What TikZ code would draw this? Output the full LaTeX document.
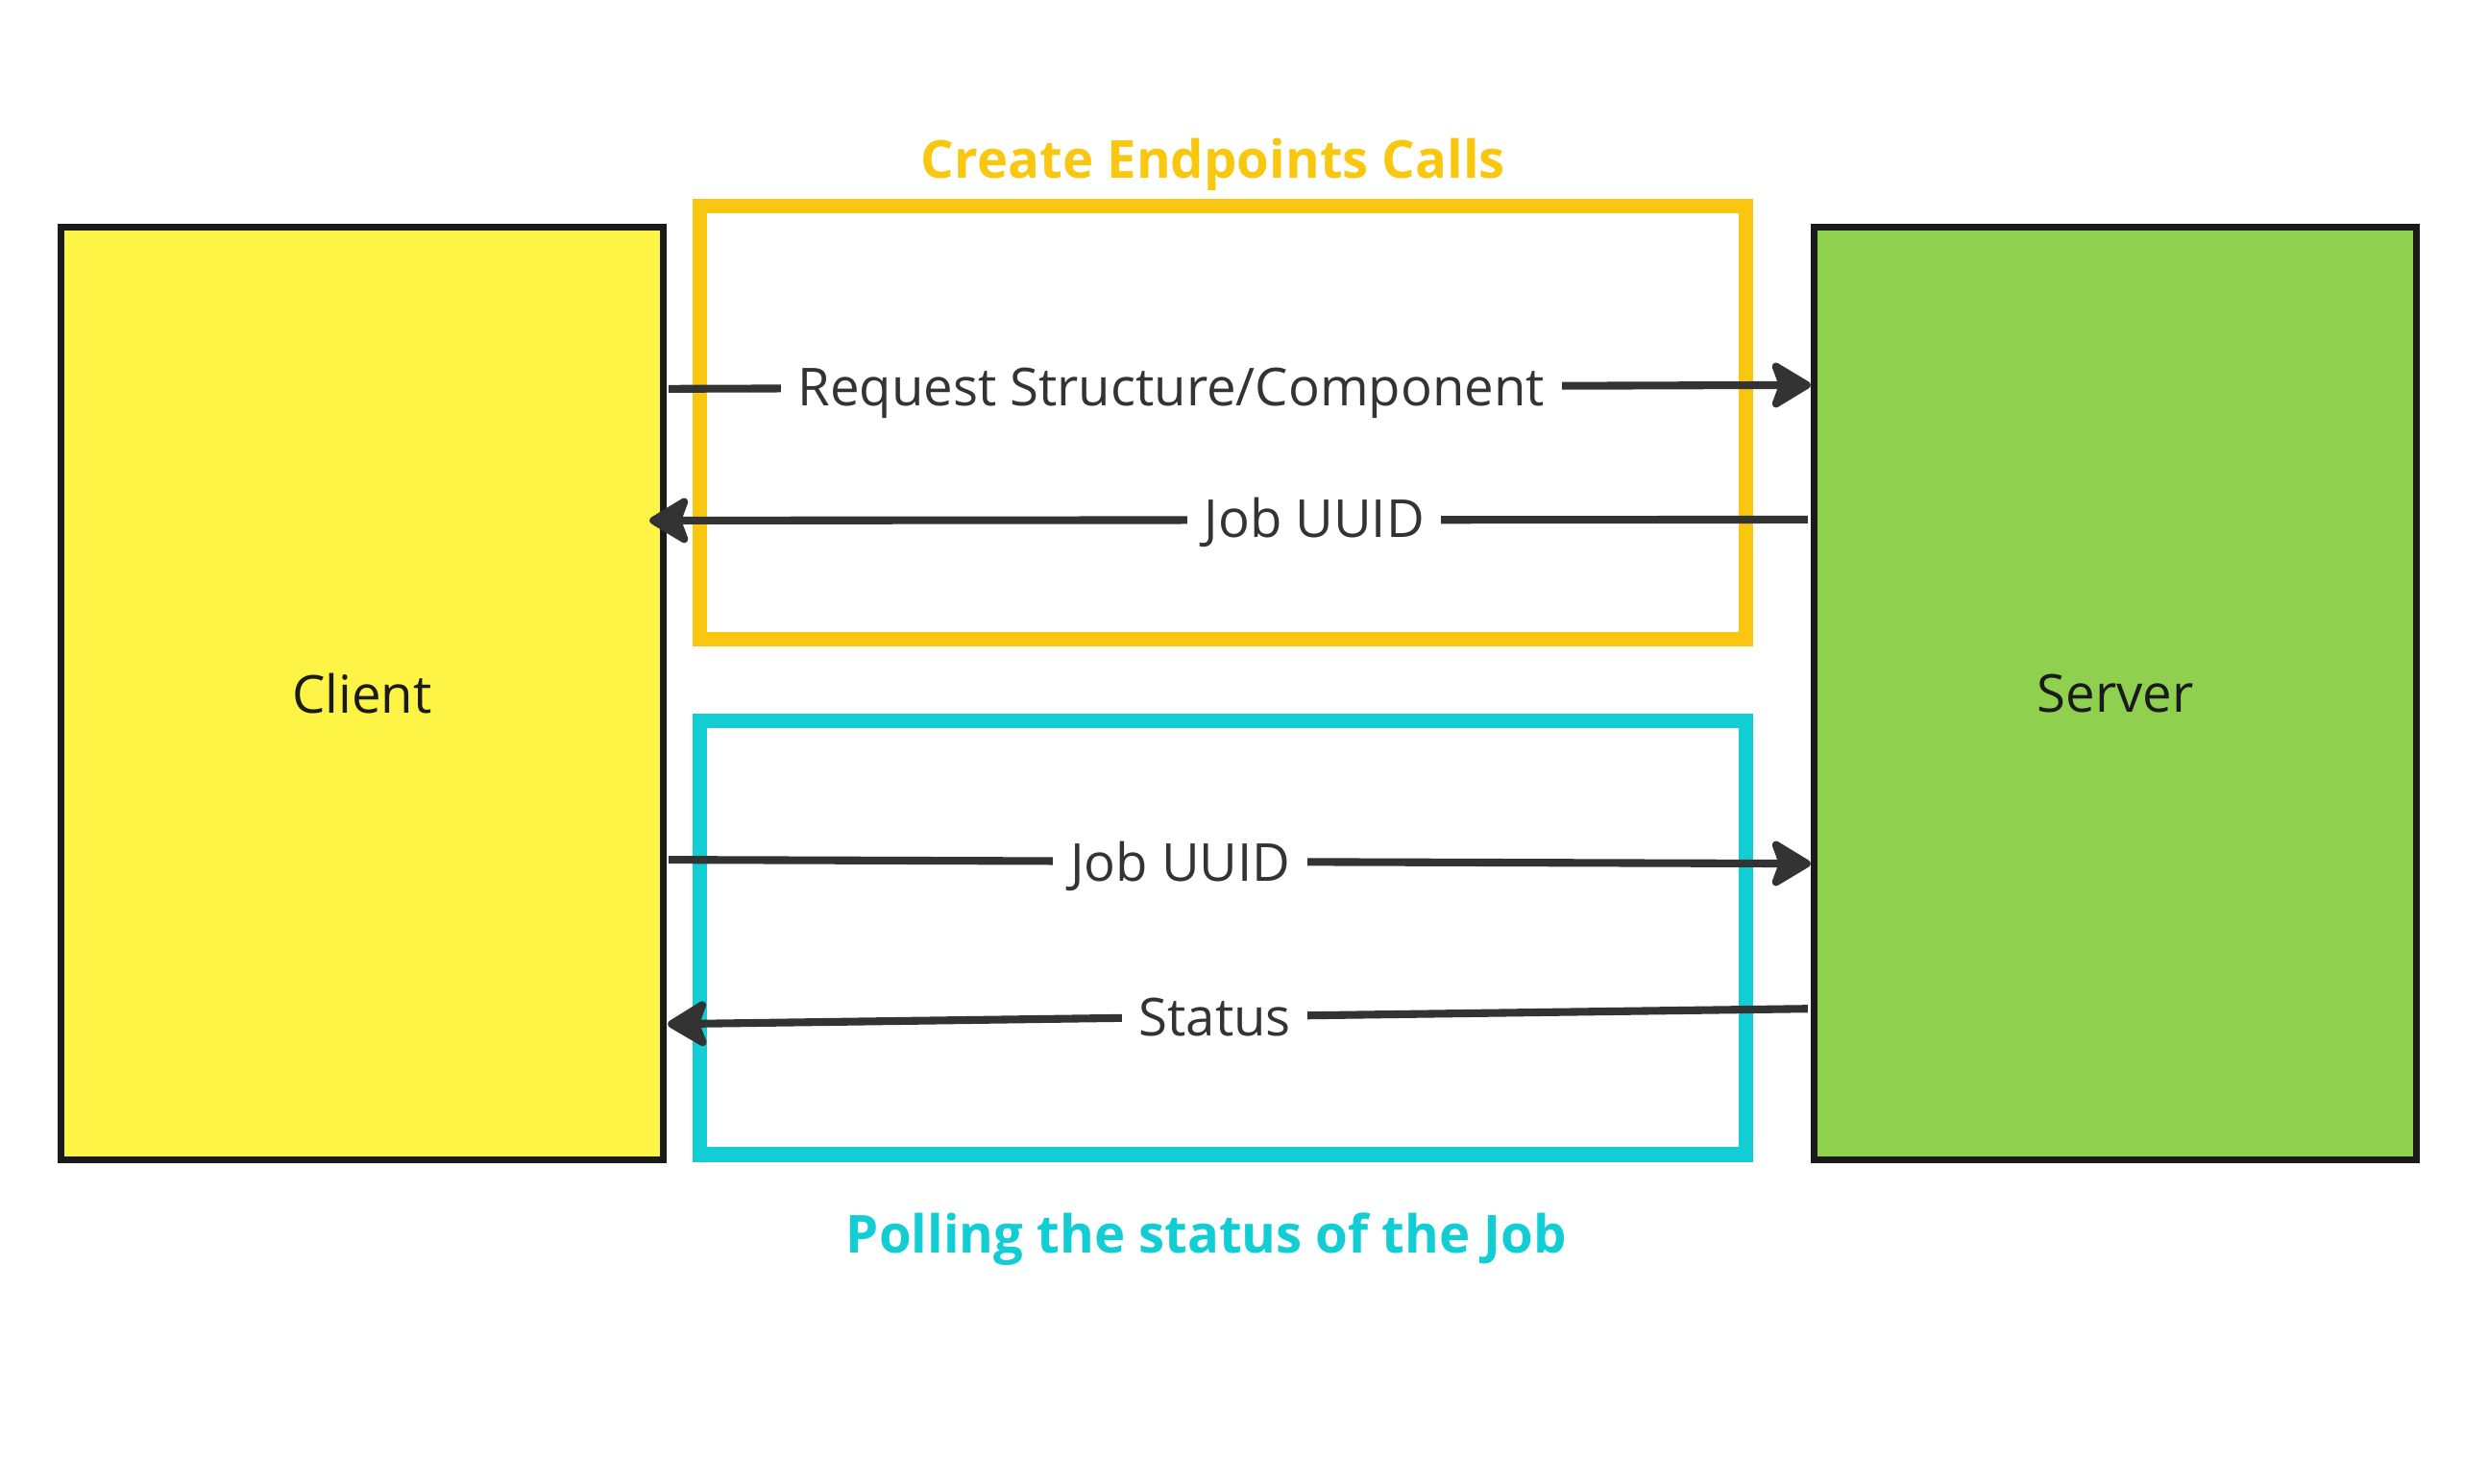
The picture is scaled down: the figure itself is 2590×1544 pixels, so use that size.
\documentclass[tikz,border=0pt]{standalone}
\usepackage{fontspec}
\setmainfont{Open Sans}
\usetikzlibrary{positioning,arrows.meta}

\definecolor{clientYellow}{HTML}{FEF445}
\definecolor{serverGreen}{HTML}{8FD14F}
\definecolor{createOrange}{HTML}{FAC710}
\definecolor{pollCyan}{HTML}{12CDD4}
\definecolor{boxBlack}{HTML}{1A1A1A}
\definecolor{lineGray}{HTML}{333333}

\tikzset{
    party/.style={draw=boxBlack,line width=2pt,outer sep=0pt,minimum width=6.26cm,minimum height=9.7cm,text=boxBlack,font=\fontsize{15.5}{18}\selectfont},
    groupFrame/.style={draw=#1,line width=4.3pt,outer sep=0pt,minimum width=10.89cm,minimum height=4.51cm},
    frameTitle/.style={text=#1,font=\bfseries\fontsize{15.5}{18}\selectfont},
    call/.style={draw=lineGray,line width=2.3pt,-{Stealth[length=0.47cm,width=0.56cm,inset=0.1cm,round]}},
    callLabel/.style={fill=white,text=lineGray,inner sep=5pt,font=\fontsize{15.5}{18}\selectfont}
}

\begin{document}
\begin{tikzpicture}[x=0.01cm,y=-0.01cm]
    \useasboundingbox (0,0) rectangle (2590,1544);

    \node[party,fill=clientYellow] (client) at (377,722) {Client};
    \node[party,fill=serverGreen] (server) at (2202,722) {Server};

    \node[groupFrame=createOrange] (createFrame) at (1273,440) {};
    \node[groupFrame=pollCyan,below=0.85cm of createFrame] (pollFrame) {};

    \node[frameTitle=createOrange,above=1pt of createFrame,xshift=-0.1cm] (createTitle) {Create Endpoints Calls};
    \node[frameTitle=pollCyan,below=0.48cm of pollFrame,xshift=-0.17cm] (pollTitle) {Polling the status of the Job};

    % create endpoint calls
    \draw[call] ([xshift=0.06cm,yshift=3.17cm]client.east) -- node[callLabel,pos=0.44,yshift=-0.06cm] (requestLabel) {Request Structure/Component} ([xshift=-0.04cm,yshift=3.21cm]server.west);
    \draw[call] ([xshift=-0.07cm,yshift=1.81cm]server.west) -- node[callLabel,pos=0.426,yshift=-0.03cm] (uuidBackLabel) {Job UUID} ([xshift=-0.14cm,yshift=1.8cm]client.east);

    % polling
    \draw[call] ([xshift=0.06cm,yshift=-1.73cm]client.east) -- node[callLabel,pos=0.448,yshift=-0.05cm] (uuidPollLabel) {Job UUID} ([xshift=-0.04cm,yshift=-1.77cm]server.west);
    \draw[call] ([xshift=-0.07cm,yshift=-3.28cm]server.west) -- node[callLabel,pos=0.52] (statusLabel) {Status} ([xshift=0.05cm,yshift=-3.44cm]client.east);
\end{tikzpicture}
\end{document}
